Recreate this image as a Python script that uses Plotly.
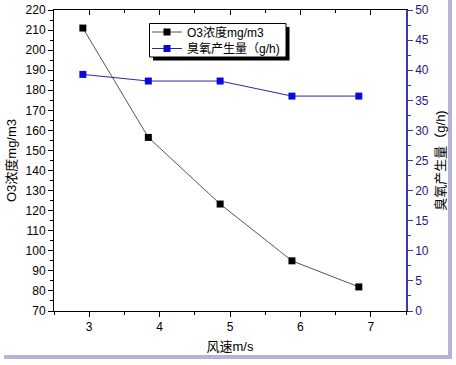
import plotly.graph_objects as go

wind_speed = [2.91, 3.84, 4.86, 5.88, 6.83]
o3_conc = [211, 156.5, 123.3, 95, 82]
o3_rate = [39.3, 38.2, 38.2, 35.7, 35.7]

x_title = "风速m/s"
y_title = "O3浓度mg/m3"
y2_title = "臭氧产生量（g/h)"
name1 = "O3浓度mg/m3"
name2 = "臭氧产生量（g/h)"

FONT = "Liberation Sans, Arial, Noto Sans CJK SC, sans-serif"
AXBLUE = "#3a3aa8"

fig = go.Figure()
fig.add_trace(go.Scatter(
    x=wind_speed, y=o3_conc, name=name1, mode="lines+markers", legend="legend",
    line=dict(color="#555555", width=1),
    marker=dict(symbol="square", size=7, color="#000000"),
))
fig.add_trace(go.Scatter(
    x=wind_speed, y=o3_rate, name=name2, mode="lines+markers", yaxis="y2", legend="legend2",
    line=dict(color="#2a2aa0", width=1),
    marker=dict(symbol="square", size=7, color="#0a0ae0"),
))
# invisible trace for the mirrored top axis
fig.add_trace(go.Scatter(x=[wind_speed[0]], y=[o3_conc[0]], xaxis="x2", mode="markers",
                         marker=dict(opacity=0), showlegend=False, hoverinfo="skip"))

W, H = 456, 365
L, R, T, B = 54, 50, 10, 54
pw, ph = W - L - R, H - T - B

def px(x):
    return (x - L) / pw

def py(y):
    return (H - B - y) / ph

shapes = [
    # outer frame shadow
    dict(type="rect", xref="paper", yref="paper", x0=px(448), x1=px(452), y0=py(359), y1=py(0),
         fillcolor="#b4b4d6", line=dict(width=0), layer="below"),
    dict(type="rect", xref="paper", yref="paper", x0=px(4), x1=px(452), y0=py(359), y1=py(355),
         fillcolor="#b4b4d6", line=dict(width=0), layer="below"),
    # legend shadow and box
    dict(type="rect", xref="paper", yref="paper", x0=px(153), x1=px(289.5), y0=py(60.5), y1=py(27),
         fillcolor="#000000", line=dict(width=0), layer="above"),
    dict(type="rect", xref="paper", yref="paper", x0=px(149.5), x1=px(286), y0=py(57), y1=py(23.5),
         fillcolor="#ffffff", line=dict(width=1, color="#000000"), layer="above"),
]

leg_common = dict(xanchor="left", yanchor="middle", bgcolor="rgba(0,0,0,0)", borderwidth=0,
                  font=dict(size=12), itemwidth=30)

fig.update_layout(
    width=W, height=H,
    margin=dict(l=L, r=R, t=T, b=B, autoexpand=False),
    paper_bgcolor="white", plot_bgcolor="white",
    font=dict(family=FONT, size=12, color="#000000"),
    showlegend=True,
    legend=dict(x=px(147), y=py(32), **leg_common),
    legend2=dict(x=px(147), y=py(48.5), **leg_common),
    shapes=shapes,
    xaxis=dict(range=[2.5, 7.5], dtick=1, tick0=3, showgrid=False, zeroline=False,
               showline=True, linecolor="#000000", linewidth=1, automargin=False,
               ticks="outside", ticklen=5, tickcolor="#000000",
               minor=dict(dtick=0.5, tick0=2.5, ticks="outside", ticklen=3, tickcolor="#000000"),
               title=dict(text=x_title, font=dict(size=13), standoff=8),
               tickfont=dict(size=12)),
    xaxis2=dict(range=[2.5, 7.5], overlaying="x", side="top", anchor="y", automargin=False,
                dtick=1, tick0=3, showgrid=False, zeroline=False, showticklabels=False,
                showline=True, linecolor="#000000", linewidth=1,
                ticks="inside", ticklen=5, tickcolor="#000000",
                minor=dict(dtick=0.5, tick0=2.5, ticks="inside", ticklen=3, tickcolor="#000000")),
    yaxis=dict(range=[70, 220], dtick=10, tick0=70, showgrid=False, zeroline=False,
               showline=True, linecolor="#000000", linewidth=1, automargin=False,
               ticks="outside", ticklen=5, tickcolor="#000000",
               minor=dict(dtick=5, ticks="outside", ticklen=3, tickcolor="#000000"),
               title=dict(text=y_title, font=dict(size=13), standoff=6),
               tickfont=dict(size=12)),
    yaxis2=dict(range=[0, 50], dtick=5, tick0=0, overlaying="y", side="right",
                showgrid=False, zeroline=False, automargin=False,
                showline=True, linecolor=AXBLUE, linewidth=1.5,
                ticks="outside", ticklen=5, tickcolor=AXBLUE,
                minor=dict(dtick=2.5, ticks="outside", ticklen=3, tickcolor=AXBLUE),
                tickfont=dict(size=12, color="#1a1a80"),
                title=dict(text=y2_title, font=dict(size=13), standoff=8)),
)

fig.write_html("out.html", config={"displayModeBar": False},
               post_script="document.body.style.margin='0';document.body.style.padding='0';")
